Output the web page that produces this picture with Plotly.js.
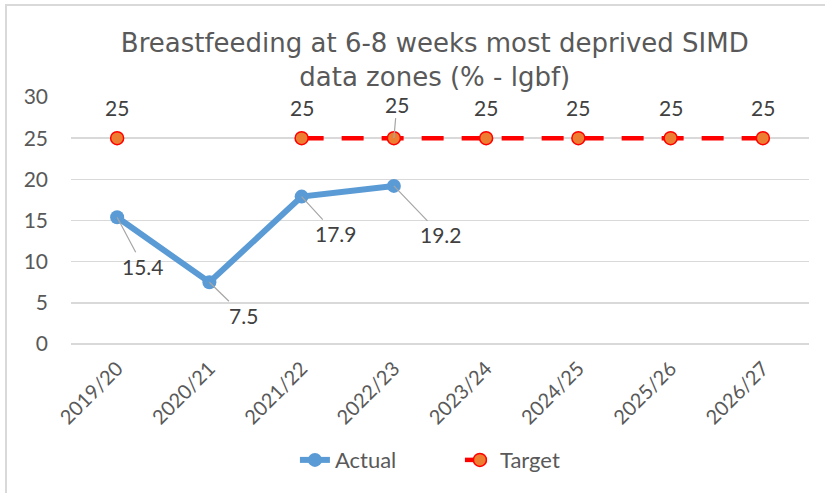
<!DOCTYPE html>
<html>
<head>
<meta charset="utf-8">
<script src="https://cdn.plot.ly/plotly-3.0.1.min.js"></script>
<style>
html,body{margin:0;padding:0;background:#fff;overflow:hidden;}
#wrap{position:relative;width:825px;height:493px;}
#chart{width:825px;height:493px;}
#frame{position:absolute;left:5px;top:4px;width:900px;height:600px;border-top:2px solid #d9d9d9;border-left:2px solid #d9d9d9;pointer-events:none;}
</style>
</head>
<body>
<div id="wrap"><div id="chart"></div><div id="frame"></div></div>
<script>
const categories = ["2019/20","2020/21","2021/22","2022/23","2023/24","2024/25","2025/26","2026/27"];
const actual = [15.4, 7.5, 17.9, 19.2, null, null, null, null];
const target = [25, null, 25, 25, 25, 25, 25, 25];
const tickVals = [0, 5, 10, 15, 20, 25, 30];

// label offsets (pixels) for data labels
const actualLabelOffset = [[26,49],[34,33],[34,37],[47,49]];
const targetLabelOffset = [null,null,null,[3,-34]];

const FONT = "Lato, 'Open Sans', sans-serif";
const GREY = "#595959";
const LBL = {family: FONT, size: 21, color: "#404040"};

const traces = [
  {
    x: categories, y: actual, name: "Actual", type: "scatter", mode: "lines+markers",
    line: {color: "#5B9BD5", width: 6},
    marker: {color: "#5B9BD5", size: 14},
    connectgaps: false
  },
  {
    x: categories, y: target, name: "Target", type: "scatter", mode: "lines+markers",
    line: {color: "#FF0000", width: 4.5, dash: "22px,18px"},
    marker: {color: "#ED7D31", size: 13, line: {color: "#FF0000", width: 1.5}},
    connectgaps: false
  }
];

const annotations = [];
actual.forEach((v, i) => {
  if (v === null) return;
  const off = actualLabelOffset[i];
  annotations.push({
    x: categories[i], y: v, xref: "x", yref: "y",
    text: v.toFixed(1), showarrow: true, arrowhead: 0, arrowwidth: 1.2,
    arrowcolor: "#a6a6a6", ax: off[0], ay: off[1], standoff: 0, font: LBL
  });
});
target.forEach((v, i) => {
  if (v === null) return;
  const off = targetLabelOffset[i];
  if (off) {
    annotations.push({
      x: categories[i], y: v, xref: "x", yref: "y",
      text: String(v), showarrow: true, arrowhead: 0, arrowwidth: 1.2,
      arrowcolor: "#a6a6a6", ax: off[0], ay: off[1], standoff: 0, font: LBL
    });
  } else {
    annotations.push({
      x: categories[i], y: v, xref: "x", yref: "y",
      text: String(v), showarrow: false, yshift: 31, font: LBL
    });
  }
});

const layout = {
  width: 825, height: 493,
  margin: {l: 71, r: 16, t: 97, b: 145},
  paper_bgcolor: "#fff", plot_bgcolor: "#fff",
  title: {
    text: "Breastfeeding at 6-8 weeks most deprived SIMD<br>data zones (% - lgbf)",
    font: {family: "'DejaVu Sans', sans-serif", size: 26, color: GREY},
    x: 0.527, xanchor: "center", y: 0.895, yanchor: "middle", yref: "container"
  },
  xaxis: {
    type: "category", categoryarray: categories, range: [-0.5, 7.5],
    tickangle: -45, tickfont: {family: FONT, size: 20, color: GREY},
    showgrid: false, showline: false, zeroline: false, ticks: "",
    ticklabelstandoff: 8, automargin: false
  },
  yaxis: {
    range: [0, 30], tickvals: tickVals, ticktext: tickVals.map(String),
    tickfont: {family: FONT, size: 21, color: GREY},
    showgrid: true, gridcolor: "#d9d9d9", gridwidth: 1.5,
    zeroline: true, zerolinecolor: "#d9d9d9", zerolinewidth: 1.5,
    showline: false, ticks: "", ticklabelstandoff: 22, automargin: false
  },
  showlegend: true,
  legend: {
    orientation: "h", x: 0.527, xanchor: "center", y: -0.47, yanchor: "middle",
    font: {family: FONT, size: 22, color: GREY}, entrywidth: 120
  },
  annotations: annotations
};

Plotly.newPlot("chart", traces, layout, {displayModeBar: false, staticPlot: true});
</script>
</body>
</html>
